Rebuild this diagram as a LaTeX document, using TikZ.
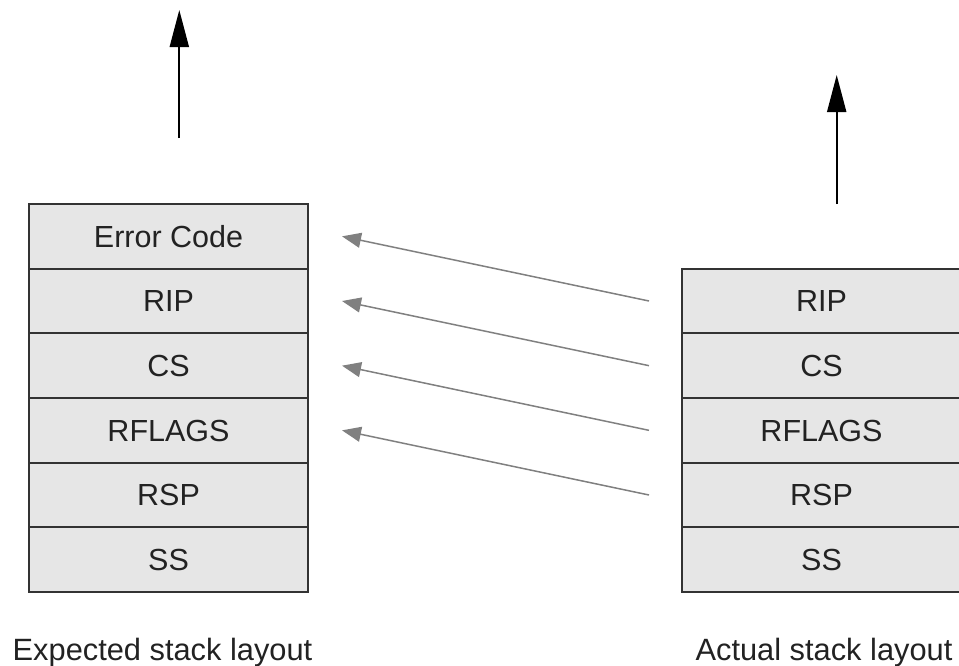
\documentclass[tikz,border=0pt]{standalone}
\usepackage{fontspec}
\setmainfont{Liberation Sans}
\usetikzlibrary{arrows.meta}
\definecolor{cellfill}{HTML}{E6E6E6}
\definecolor{cellline}{HTML}{333333}
\definecolor{linkgray}{HTML}{808080}
\definecolor{txt}{HTML}{222222}
\begin{document}
\begin{tikzpicture}[x=1pt,y=-1pt,
  cell/.style={draw=cellline, line width=2pt, fill=cellfill, text=txt,
    minimum width=279pt, minimum height=64.67pt, inner sep=0pt,
    font=\fontsize{30.5}{32}\selectfont, text height=21.8pt, text depth=0pt},
  link/.style={draw=linkgray, line width=1.5pt,
    -{Triangle[length=19pt,width=15pt]}},
  growth/.style={draw=black, line width=2pt,
    -{Triangle[length=37pt,width=19pt]}},
  caption/.style={anchor=base, text=txt, inner sep=0pt,
    font=\fontsize{30.8}{32}\selectfont}]
\useasboundingbox (0,0) rectangle (959,665);
\clip (0,0) rectangle (959,665);

% expected layout (left stack)
\node[cell] (l0) at (168.5,236.33) {Error Code};
\node[cell] (l1) at (168.5,301.00) {RIP};
\node[cell] (l2) at (168.5,365.67) {CS};
\node[cell] (l3) at (168.5,430.33) {RFLAGS};
\node[cell] (l4) at (168.5,495.00) {RSP};
\node[cell] (l5) at (168.5,559.67) {SS};

% actual layout (right stack)
\node[cell] (r1) at (821.5,301.00) {RIP};
\node[cell] (r2) at (821.5,365.67) {CS};
\node[cell] (r3) at (821.5,430.33) {RFLAGS};
\node[cell] (r4) at (821.5,495.00) {RSP};
\node[cell] (r5) at (821.5,559.67) {SS};

% mismatched slots
\draw[link] ([xshift=-32pt]r1.west) -- ([xshift=33pt]l0.east);
\draw[link] ([xshift=-32pt]r2.west) -- ([xshift=33pt]l1.east);
\draw[link] ([xshift=-32pt]r3.west) -- ([xshift=33pt]l2.east);
\draw[link] ([xshift=-32pt]r4.west) -- ([xshift=33pt]l3.east);

% stack growth direction
\coordinate (lgrowA) at (179.3,138);
\coordinate (lgrowB) at (179.3,10);
\coordinate (rgrowA) at (836.7,204);
\coordinate (rgrowB) at (836.7,75);
\draw[growth] (lgrowA) -- (lgrowB);
\draw[growth] (rgrowA) -- (rgrowB);

% captions
\node[caption] (capL) at (162.5,660) {Expected stack layout};
\node[caption] (capR) at (824,660) {Actual stack layout};
\end{tikzpicture}
\end{document}
